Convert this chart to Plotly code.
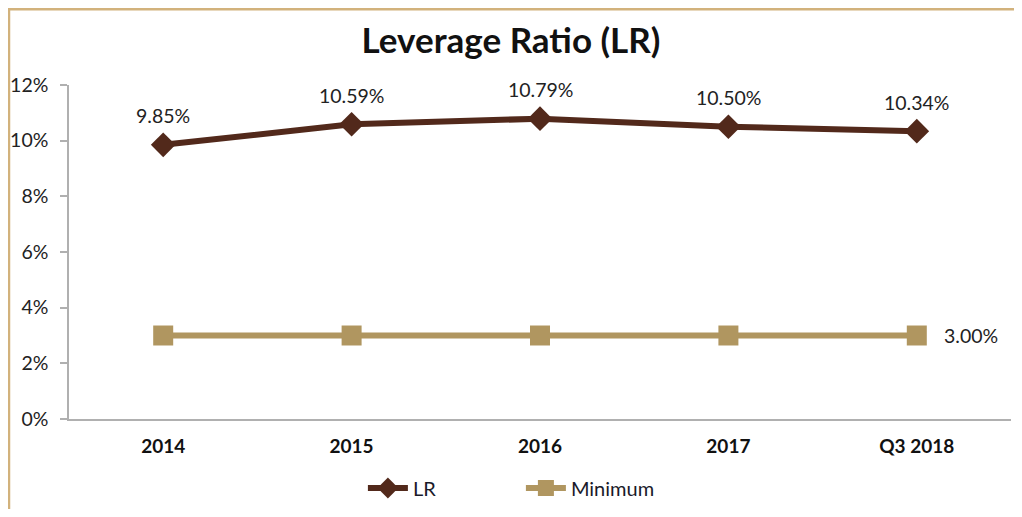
import plotly.graph_objects as go

# data
periods = ["2014", "2015", "2016", "2017", "Q3 2018"]
lr_values = [0.0985, 0.1059, 0.1079, 0.1050, 0.1034]
minimum_values = [0.03, 0.03, 0.03, 0.03, 0.03]

LR_COLOR = "#52291B"
MIN_COLOR = "#B09660"
FONT = "Lato, 'Open Sans', sans-serif"

fig = go.Figure()
fig.add_trace(go.Scatter(
    x=periods, y=lr_values, name="LR", mode="lines+markers",
    line=dict(color=LR_COLOR, width=6),
    marker=dict(symbol="diamond", size=19, color=LR_COLOR),
))
fig.add_trace(go.Scatter(
    x=periods, y=minimum_values, name="Minimum", mode="lines+markers",
    line=dict(color=MIN_COLOR, width=6),
    marker=dict(symbol="square", size=20, color=MIN_COLOR),
))

# data labels (annotation x is the category index, "2014" would be read as index 2014)
for i, v in enumerate(lr_values):
    fig.add_annotation(x=i, y=v, text=f"{v*100:.2f}%", showarrow=False,
                       yshift=29, font=dict(size=19.5, color="#222222", family=FONT))
fig.add_annotation(x=len(periods) - 1, y=minimum_values[-1],
                   text=f"{minimum_values[-1]*100:.2f}%",
                   showarrow=False, xanchor="left", xshift=25,
                   font=dict(size=19.5, color="#222222", family=FONT))

# outer border of the chart (only top and left edges are visible)
fig.add_shape(type="rect", xref="paper", yref="paper",
              x0=-0.0637, x1=1.2, y0=-0.6, y1=1.2269,
              line=dict(color="#D2B27C", width=2.5), layer="below")

# page body has an 8px margin, so the figure is a bit smaller than the window
fig.update_layout(
    width=1006, height=501,
    margin=dict(l=61, r=3, t=77, b=89),
    paper_bgcolor="white", plot_bgcolor="white",
    title=dict(text="<b>Leverage Ratio (LR)</b>", x=0.5, xanchor="center",
               y=0.934, yanchor="middle",
               font=dict(size=35, color="#111111", family=FONT)),
    font=dict(family=FONT, color="#222222"),
    showlegend=True,
    legend=dict(orientation="h", x=0.312, xanchor="left", y=-0.203, yanchor="middle",
                font=dict(size=20, color="#1a1a2a", family=FONT),
                entrywidth=103, entrywidthmode="pixels", itemwidth=40),
)
fig.update_xaxes(
    type="category", categoryorder="array", categoryarray=periods,
    range=[-0.5, len(periods) - 0.5],
    showgrid=False, showline=True, linecolor="#B0B0B0", linewidth=1.5,
    ticks="", tickfont=dict(size=19, color="#111111", family=FONT, weight="bold"),
    ticklabelstandoff=9,
)
fig.update_yaxes(
    range=[0, 0.12], dtick=0.02, tickformat=".0%", showgrid=False,
    showline=True, linecolor="#B0B0B0", linewidth=1.5,
    ticks="outside", ticklen=7, tickcolor="#B0B0B0", tickwidth=1.5,
    tickfont=dict(size=19.5, color="#222222", family=FONT), zeroline=False,
    ticklabelstandoff=8,
)

fig.write_html("out.html")
